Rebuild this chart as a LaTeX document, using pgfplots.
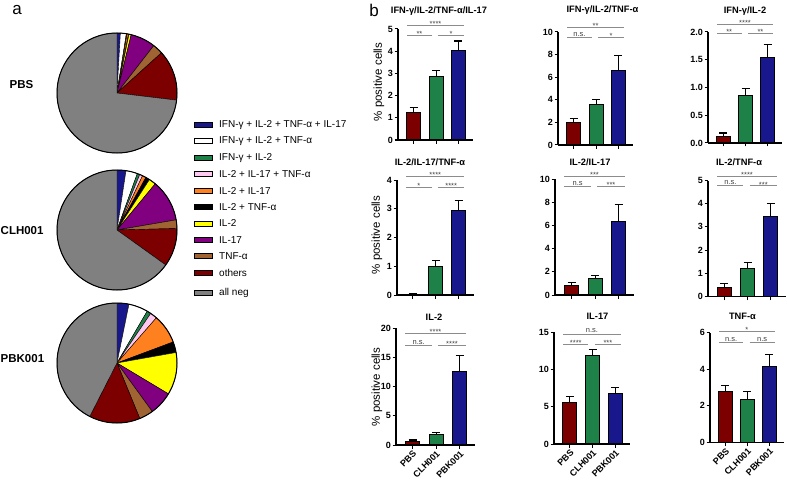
\documentclass[border=0pt]{standalone}
\usepackage{fontspec}
\setmainfont{Liberation Sans}
\usepackage{pgfplots}
\pgfplotsset{compat=1.18}

\definecolor{cblue}{RGB}{24,24,140}
\definecolor{cgreen}{RGB}{30,130,72}
\definecolor{cred}{RGB}{125,0,0}
\definecolor{cpink}{RGB}{255,200,240}
\definecolor{corange}{RGB}{255,128,30}
\definecolor{cyellow}{RGB}{255,255,0}
\definecolor{cpurple}{RGB}{128,0,128}
\definecolor{cbrown}{RGB}{160,100,50}
\definecolor{cgray}{RGB}{128,128,128}

\newcommand{\piechart}[3]{%
  \xdef\cumang{0}%
  \foreach \v/\c in {#3}{%
    \pgfmathsetmacro\sa{90-\cumang}%
    \pgfmathsetmacro\ea{90-\cumang-3.6*\v}%
    \filldraw[fill=\c, draw=black, line width=0.4pt] (#1pt,-#2pt) -- ++(\sa:60pt) arc[start angle=\sa, end angle=\ea, radius=60pt] -- cycle;%
    \pgfmathsetmacro\nc{\cumang+3.6*\v}%
    \xdef\cumang{\nc}%
  }%
  \draw[line width=1pt] (#1pt,-#2pt) circle[radius=60pt];%
}

\newcommand{\legitem}[3]{%
  \draw[fill=#2, line width=0.8pt] (194pt,-#1pt+2.5pt) rectangle (212pt,-#1pt-2.5pt);%
  \node[anchor=west, font=\fontsize{10}{11}\selectfont, inner sep=0pt] at (219pt,-#1pt) {#3};%
}

\newcommand{\sig}[5]{%
  \draw[draw=black!45, line width=0.8pt] (axis cs:#1,#3) -- (axis cs:#2,#3) node[midway, anchor=base, yshift=#5, font=\fontsize{7.5}{8}\selectfont, text=black!75, inner sep=0pt] {#4};%
}

\pgfplotsset{
  gp/.style={
    scale only axis,
    axis x line*=bottom, axis y line*=left,
    axis line style={-, line width=1.1pt},
    xmin=-0.7, xmax=2.65, ymin=0,
    xtick={0,1,2}, xticklabels={},
    tick align=outside,
    major tick length=3.5pt,
    tick style={line width=1pt, black},
    clip=false,
    anchor=south west,
    /pgf/number format/assume math mode=true,
    yticklabel style={font=\bfseries\fontsize{9}{10}\selectfont, inner sep=1.5pt},
    every axis plot/.append style={ybar, bar width=14pt, draw=black, line width=1.1pt,
      error bars/y dir=plus, error bars/y explicit,
      error bars/error bar style={line width=1.1pt, black},
      error bars/error mark options={rotate=90, mark size=4pt, line width=1.1pt, black}},
  },
  gpx/.style={
    xticklabels={PBS,CLH001,PBK001},
    xticklabel style={rotate=45, anchor=north east, font=\bfseries\fontsize{9}{10}\selectfont, inner sep=1pt},
  },
}

\newcommand{\asty}{-1.2pt}
\newcommand{\nsy}{1.5pt}

\begin{document}
\begin{tikzpicture}
\useasboundingbox (0,0) rectangle (787pt,-484pt);

% panel letters
\node[font=\fontsize{17}{18}\selectfont] at (17pt,-10pt) {a};
\node[font=\fontsize{17}{18}\selectfont] at (374pt,-10pt) {b};

% pie labels
\node[anchor=west, inner sep=0pt, font=\bfseries\fontsize{11.5}{12}\selectfont] at (9.5pt,-85pt) {PBS};
\node[anchor=west, inner sep=0pt, font=\bfseries\fontsize{11.5}{12}\selectfont] at (0.5pt,-231pt) {CLH001};
\node[anchor=west, inner sep=0pt, font=\bfseries\fontsize{11.5}{12}\selectfont] at (0.5pt,-359pt) {PBK001};

% pies (percent of cells, clockwise from 12 o'clock)
\piechart{117}{93}{0.9/cblue, 1.6/white, 0.1/cgreen, 0.1/cpink, 0.4/corange, 0.1/black, 0.6/cyellow, 6.7/cpurple, 2.8/cbrown, 13.6/cred, 73.1/cgray}
\piechart{117}{230}{2.4/cblue, 3.1/white, 0.7/cgreen, 0.8/cpink, 1.0/corange, 1.1/black, 1.9/cyellow, 11.3/cpurple, 2.3/cbrown, 10.3/cred, 65.1/cgray}
\piechart{117}{363}{3.2/cblue, 5.2/white, 1.1/cgreen, 1.9/cpink, 7.9/corange, 2.9/black, 11.4/cyellow, 6.4/cpurple, 3.8/cbrown, 13.7/cred, 42.5/cgray}

% legend
\legitem{125}{cblue}{IFN-γ + IL-2 + TNF-α + IL-17}
\legitem{141.4}{white}{IFN-γ + IL-2 + TNF-α}
\legitem{157.8}{cgreen}{IFN-γ + IL-2}
\legitem{174.2}{cpink}{IL-2 + IL-17 + TNF-α}
\legitem{190.6}{corange}{IL-2 + IL-17}
\legitem{207}{black}{IL-2 + TNF-α}
\legitem{223.4}{cyellow}{IL-2}
\legitem{239.8}{cpurple}{IL-17}
\legitem{256.2}{cbrown}{TNF-α}
\legitem{272.6}{cred}{others}
\legitem{292.7}{cgray}{all neg}

% titles
\begin{scope}[every node/.style={font=\bfseries\fontsize{9.3}{10}\selectfont, inner sep=0pt}]
\node at (439pt,-11.5pt) {IFN-γ/IL-2/TNF-α/IL-17};
\node at (602.5pt,-10.5pt) {IFN-γ/IL-2/TNF-α};
\node at (745pt,-11pt) {IFN-γ/IL-2};
\node at (430pt,-162pt) {IL-2/IL-17/TNF-α};
\node at (590pt,-162pt) {IL-2/IL-17};
\node at (739pt,-162pt) {IL-2/TNF-α};
\node at (434pt,-317pt) {IL-2};
\node at (597.5pt,-316.5pt) {IL-17};
\node at (742.5pt,-316.5pt) {TNF-α};
\end{scope}

% y labels
\begin{scope}[every node/.style={font=\fontsize{11.5}{12}\selectfont, rotate=90, inner sep=0pt}]
\node at (379pt,-82pt) {\% positive cells};
\node at (377pt,-235pt) {\% positive cells};
\node at (377pt,-387pt) {\% positive cells};
\end{scope}

% ---------- row 1 ----------
\begin{axis}[gp, at={(398pt,-140pt)}, width=75pt, height=111pt, ymax=5, ytick={0,1,...,5}]
\addplot[fill=cred] coordinates {(0,1.25) +- (0,0.22)};
\addplot[fill=cgreen] coordinates {(1,2.85) +- (0,0.30)};
\addplot[fill=cblue] coordinates {(2,4.03) +- (0,0.43)};
\sig{-0.3}{2.25}{5.18}{****}{\asty}
\sig{-0.3}{0.82}{4.73}{**}{\asty}
\sig{1.1}{2.25}{4.73}{*}{\asty}
\end{axis}

\begin{axis}[gp, at={(558pt,-145pt)}, width=75pt, height=113pt, ymax=10, ytick={0,2,...,10}]
\addplot[fill=cred] coordinates {(0,1.97) +- (0,0.38)};
\addplot[fill=cgreen] coordinates {(1,3.59) +- (0,0.44)};
\addplot[fill=cblue] coordinates {(2,6.56) +- (0,1.38)};
\sig{-0.3}{2.25}{10.39}{**}{\asty}
\sig{-0.3}{0.82}{9.51}{n.s.}{\nsy}
\sig{1.1}{2.25}{9.51}{*}{\asty}
\end{axis}

\begin{axis}[gp, at={(708pt,-143pt)}, width=74pt, height=111pt, ymax=2, ytick={0,0.5,...,2},
  yticklabel style={/pgf/number format/.cd, fixed, fixed zerofill, precision=1}]
\addplot[fill=cred] coordinates {(0,0.12) +- (0,0.06)};
\addplot[fill=cgreen] coordinates {(1,0.855) +- (0,0.13)};
\addplot[fill=cblue] coordinates {(2,1.54) +- (0,0.24)};
\sig{-0.3}{2.25}{2.13}{****}{\asty}
\sig{-0.3}{0.82}{1.98}{**}{\asty}
\sig{1.1}{2.25}{1.98}{**}{\asty}
\end{axis}

% ---------- row 2 ----------
\begin{axis}[gp, at={(397pt,-295pt)}, width=76.5pt, height=115pt, ymax=4, ytick={0,1,...,4}]
\addplot[fill=cred] coordinates {(0,0.02) +- (0,0.03)};
\addplot[fill=cgreen] coordinates {(1,0.985) +- (0,0.23)};
\addplot[fill=cblue] coordinates {(2,2.93) +- (0,0.37)};
\sig{-0.3}{2.25}{4.12}{****}{\asty}
\sig{-0.3}{0.82}{3.76}{*}{\asty}
\sig{1.1}{2.25}{3.76}{****}{\asty}
\end{axis}

\begin{axis}[gp, at={(555pt,-295pt)}, width=79pt, height=116pt, ymax=10, ytick={0,2,...,10}]
\addplot[fill=cred] coordinates {(0,0.80) +- (0,0.26)};
\addplot[fill=cgreen] coordinates {(1,1.44) +- (0,0.26)};
\addplot[fill=cblue] coordinates {(2,6.32) +- (0,1.50)};
\sig{-0.3}{2.25}{10.26}{***}{\asty}
\sig{-0.3}{0.82}{9.34}{n.s}{\nsy}
\sig{1.1}{2.25}{9.34}{***}{\asty}
\end{axis}

\begin{axis}[gp, at={(708pt,-296.5pt)}, width=78pt, height=116pt, ymax=5, ytick={0,1,...,5}]
\addplot[fill=cred] coordinates {(0,0.37) +- (0,0.19)};
\addplot[fill=cgreen] coordinates {(1,1.19) +- (0,0.26)};
\addplot[fill=cblue] coordinates {(2,3.45) +- (0,0.54)};
\sig{-0.3}{2.25}{5.17}{****}{\asty}
\sig{-0.3}{0.82}{4.77}{n.s.}{\nsy}
\sig{1.1}{2.25}{4.77}{***}{\asty}
\end{axis}

% ---------- row 3 ----------
\begin{axis}[gp, gpx, at={(396pt,-445pt)}, width=79pt, height=117pt, ymax=20, ytick={0,5,...,20}]
\addplot[fill=cred] coordinates {(0,0.57) +- (0,0.29)};
\addplot[fill=cgreen] coordinates {(1,1.83) +- (0,0.34)};
\addplot[fill=cblue] coordinates {(2,12.55) +- (0,2.68)};
\sig{-0.3}{2.25}{19.1}{****}{\asty}
\sig{-0.3}{0.82}{16.98}{n.s.}{\nsy}
\sig{1.1}{2.25}{16.98}{****}{\asty}
\end{axis}

\begin{axis}[gp, gpx, at={(554pt,-444pt)}, width=76pt, height=112pt, ymax=15, ytick={0,5,...,15}]
\addplot[fill=cred] coordinates {(0,5.6) +- (0,0.8)};
\addplot[fill=cgreen] coordinates {(1,11.87) +- (0,0.84)};
\addplot[fill=cblue] coordinates {(2,6.71) +- (0,0.89)};
\sig{-0.3}{2.25}{14.7}{n.s.}{\nsy}
\sig{-0.3}{0.82}{13.3}{****}{\asty}
\sig{1.1}{2.25}{13.3}{***}{\asty}
\end{axis}

\begin{axis}[gp, gpx, at={(710pt,-442.5pt)}, width=73.5pt, height=110pt, ymax=6, ytick={0,2,...,6}]
\addplot[fill=cred] coordinates {(0,2.8) +- (0,0.33)};
\addplot[fill=cgreen] coordinates {(1,2.35) +- (0,0.43)};
\addplot[fill=cblue] coordinates {(2,4.15) +- (0,0.63)};
\sig{-0.3}{2.25}{6.05}{*}{\asty}
\sig{-0.3}{0.82}{5.45}{n.s.}{\nsy}
\sig{1.1}{2.25}{5.45}{n.s}{\nsy}
\end{axis}

\end{tikzpicture}
\end{document}
